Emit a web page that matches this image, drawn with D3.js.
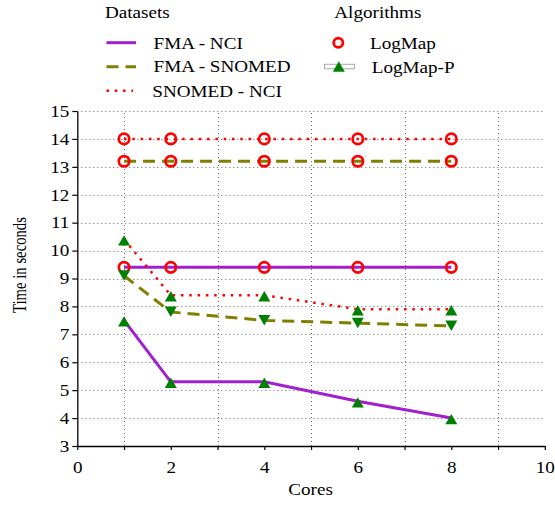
<!DOCTYPE html>
<html>
<head>
<meta charset="utf-8">
<script src="https://cdn.jsdelivr.net/npm/d3@7"></script>
<style>
  html, body { margin: 0; padding: 0; background: #fff; }
  svg { display: block; }
  text { font-family: "Liberation Serif", "Times New Roman", serif; fill: #000; }
</style>
</head>
<body>
<script>
// ---- Data ----
const cores = [1, 2, 4, 6, 8];
const datasets = ["FMA - NCI", "FMA - SNOMED", "SNOMED - NCI"];
const algorithms = ["LogMap", "LogMap-P"];
const logmapFmaNci = [9.4, 9.4, 9.4, 9.4, 9.4];
const logmapFmaSnomed = [13.2, 13.2, 13.2, 13.2, 13.2];
const logmapSnomedNci = [14.0, 14.0, 14.0, 14.0, 14.0];
const logmapPFmaNci = [7.5, 5.3, 5.3, 4.6, 4.0];
const logmapPFmaSnomed = [9.1, 7.8, 7.5, 7.4, 7.3];
const logmapPSnomedNci = [10.4, 8.4, 8.4, 7.9, 7.9];
const xTicks = [0, 1, 2, 3, 4, 5, 6, 7, 8, 9, 10];
const yTicks = [3, 4, 5, 6, 7, 8, 9, 10, 11, 12, 13, 14, 15];
const xGridValues = [1, 3, 5, 7, 9];

// ---- Styles ----
const styles = {
  "FMA - NCI": { color: "#a21fd0", dash: null, width: 3 },
  "FMA - SNOMED": { color: "#808000", dash: "12,7", width: 3 },
  "SNOMED - NCI": { color: "#ff0000", dash: "2.5,5.8", width: 2.5 }
};
const FS = 16.5, SX = 1.16;

const W = 555, H = 506;
const svg = d3.select("body").append("svg").attr("width", W).attr("height", H);

const x = d3.scaleLinear().domain([0, 10]).range([77.3, 544.8]);
const y = d3.scaleLinear().domain([3, 15]).range([446, 111]);

// grid
const grid = svg.append("g").attr("stroke", "#666").attr("stroke-width", 1).attr("stroke-dasharray", "1,3");
grid.selectAll("line.h").data(yTicks.filter(v => v > 3)).join("line")
  .attr("x1", x(0)).attr("x2", x(10)).attr("y1", d => Math.round(y(d)) + 0.5).attr("y2", d => Math.round(y(d)) + 0.5);
grid.selectAll("line.v").data(xGridValues).join("line")
  .attr("y1", y(3)).attr("y2", y(15)).attr("x1", d => Math.round(x(d)) + 0.5).attr("x2", d => Math.round(x(d)) + 0.5);

// axes
const xAxis = svg.append("g").attr("transform", `translate(0,${y(3)})`)
  .call(d3.axisBottom(x).tickValues(xTicks).tickSize(4).tickSizeOuter(0).tickPadding(11.3)
    .tickFormat(d => d % 2 === 0 ? d : ""));
const yAxis = svg.append("g").attr("transform", `translate(${x(0)},0)`)
  .call(d3.axisLeft(y).tickValues(yTicks).tickSize(5).tickSizeOuter(0).tickPadding(3));
[xAxis, yAxis].forEach(a => {
  a.select(".domain").attr("stroke", "#000").attr("stroke-width", 1.3);
  a.selectAll(".tick line").attr("stroke", "#000").attr("stroke-width", 1.2);
  a.selectAll("text").attr("font-family", "Liberation Serif").attr("font-size", FS).attr("fill", "#000");
});
xAxis.selectAll("text").attr("transform", `scale(${SX},1)`);
yAxis.selectAll("text").attr("x", -8 / SX).attr("transform", `scale(${SX},1)`);

// axis titles
function stext(g, str, px, py, anchor, fs, sx, sy, rot) {
  return g.append("text").text(str).attr("font-size", fs).attr("text-anchor", anchor || "start")
    .attr("transform", `translate(${px},${py})` + (rot ? ` rotate(${rot})` : "") + ` scale(${sx},${sy})`);
}
stext(svg, "Cores", x(5) - 0.5, 494.5, "middle", FS, SX, 1);
stext(svg, "Time in seconds", 25.5, 265, "middle", 15.5, 0.95, 1.17, -90);

// series
const line = d3.line().x(d => x(d[0])).y(d => y(d[1]));
const series = [
  { ds: "FMA - NCI", alg: "LogMap", vals: logmapFmaNci },
  { ds: "FMA - SNOMED", alg: "LogMap", vals: logmapFmaSnomed },
  { ds: "SNOMED - NCI", alg: "LogMap", vals: logmapSnomedNci },
  { ds: "FMA - NCI", alg: "LogMap-P", vals: logmapPFmaNci, tri: "up" },
  { ds: "FMA - SNOMED", alg: "LogMap-P", vals: logmapPFmaSnomed, tri: "down" },
  { ds: "SNOMED - NCI", alg: "LogMap-P", vals: logmapPSnomedNci, tri: "up" }
];
const lg = svg.append("g");
series.forEach(s => {
  const st = styles[s.ds];
  lg.append("path").datum(cores.map((c, i) => [c, s.vals[i]]))
    .attr("d", line).attr("fill", "none").attr("stroke", st.color)
    .attr("stroke-width", st.width).attr("stroke-dasharray", st.dash);
});
const triUp = "M-6,6.2L6,6.2L0,-4.2Z";
const triDown = "M-6,-5.4L6,-5.4L0,5Z";
const mg = svg.append("g");
series.forEach(s => {
  const pts = cores.map((c, i) => [c, s.vals[i]]);
  if (s.alg === "LogMap") {
    mg.selectAll(null).data(pts).join("circle")
      .attr("cx", d => x(d[0])).attr("cy", d => y(d[1])).attr("r", 5.2)
      .attr("fill", "none").attr("stroke", "#ff0000").attr("stroke-width", 2.7);
  } else {
    mg.selectAll(null).data(pts).join("path")
      .attr("d", s.tri === "up" ? triUp : triDown)
      .attr("transform", d => `translate(${x(d[0])},${y(d[1])})`)
      .attr("fill", "#008000");
  }
});

// legend: datasets
const leg = svg.append("g");
stext(leg, "Datasets", 105, 18, "start", FS, SX, 1);
const legY = [42.7, 66.7, 90.7];
const legTextY = [49.3, 72.3, 97];
datasets.forEach((ds, i) => {
  const st = styles[ds];
  leg.append("line").attr("x1", 106.5).attr("x2", ds === "SNOMED - NCI" ? 133 : 136)
    .attr("y1", legY[i]).attr("y2", legY[i]).attr("stroke", st.color)
    .attr("stroke-width", st.width).attr("stroke-dasharray", st.dash);
  stext(leg, ds, i === 2 ? 152.3 : 153.5, legTextY[i], "start", FS, SX, 1);
});
// legend: algorithms
stext(leg, "Algorithms", 334.3, 18, "start", FS, SX, 1);
leg.append("circle").attr("cx", 338.3).attr("cy", 42.7).attr("r", 4.6)
  .attr("fill", "none").attr("stroke", "#ff0000").attr("stroke-width", 2.8);
stext(leg, algorithms[0], 370, 48.8, "start", FS, SX, 1);
leg.append("rect").attr("x", 324.5).attr("y", 64.3).attr("width", 30).attr("height", 4.5)
  .attr("fill", "#fff").attr("stroke", "#aaa").attr("stroke-width", 1);
leg.append("path").attr("d", triUp).attr("transform", "translate(338.8,65.5)").attr("fill", "#008000");
stext(leg, algorithms[1], 371.7, 72.7, "start", FS, SX, 1);
</script>
</body>
</html>
